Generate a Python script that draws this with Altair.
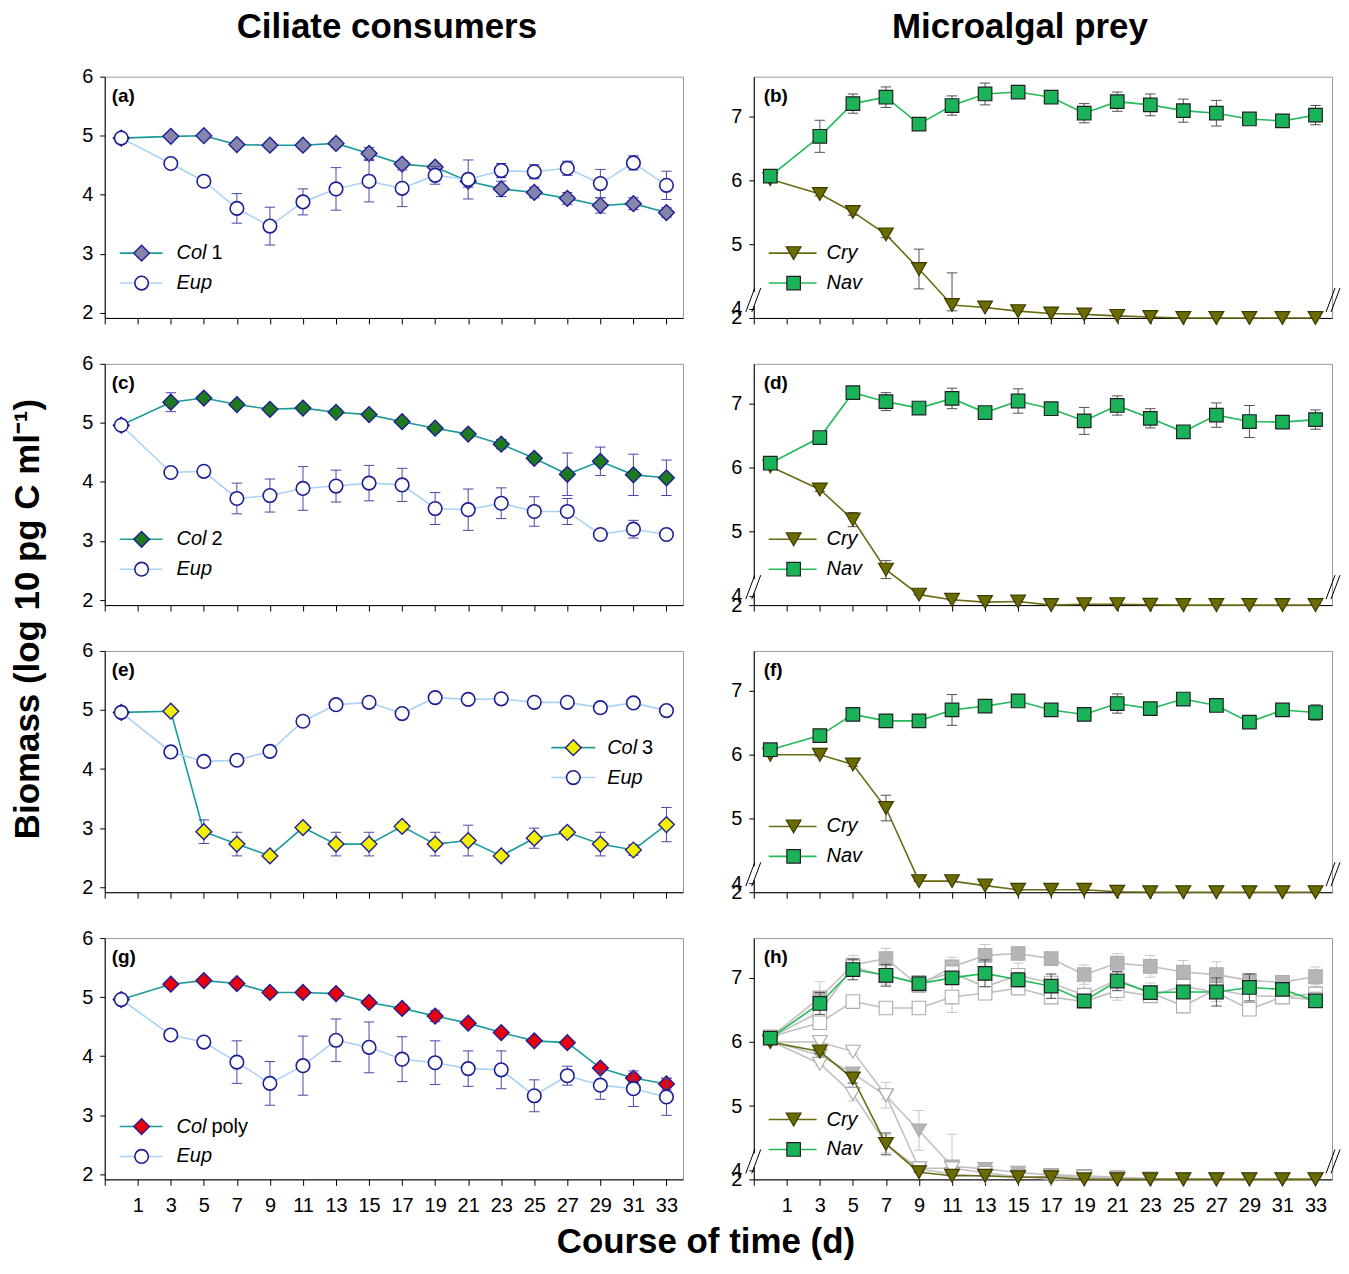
import altair as alt
import pandas as pd

# ---------------- data ----------------
days = [0, 3, 5, 7, 9, 11, 13, 15, 17, 19, 21, 23, 25, 27, 29, 31, 33]
x_ticks = [-1, 1, 3, 5, 7, 9, 11, 13, 15, 17, 19, 21, 23, 25, 27, 29, 31, 33]
left_y_ticks = [2, 3, 4, 5, 6]
right_y_ticks = [2, 4, 5, 6, 7]

# (a) Col 1 / Eup
col1 = [4.96, 4.99, 5.00, 4.85, 4.84, 4.84, 4.87, 4.70, 4.52, 4.47, 4.23, 4.10, 4.04, 3.94, 3.82, 3.85, 3.70]
col1_err = [0.04, 0.03, 0.03, 0.04, 0.06, 0.06, 0.07, 0.10, 0.06, 0.06, 0.10, 0.13, 0.09, 0.10, 0.13, 0.10, 0.08]
eup_a = [4.96, 4.53, 4.23, 3.77, 3.47, 3.88, 4.10, 4.23, 4.11, 4.33, 4.26, 4.41, 4.39, 4.45, 4.19, 4.54, 4.16]
eup_a_err = [0.04, 0.05, 0.07, 0.25, 0.32, 0.22, 0.36, 0.35, 0.31, 0.15, 0.33, 0.12, 0.12, 0.12, 0.24, 0.12, 0.24]
# (c) Col 2 / Eup
col2 = [4.96, 5.35, 5.42, 5.31, 5.23, 5.25, 5.18, 5.14, 5.02, 4.91, 4.81, 4.64, 4.40, 4.13, 4.35, 4.12, 4.07]
col2_err = [0.04, 0.16, 0.05, 0.05, 0.05, 0.06, 0.06, 0.06, 0.05, 0.06, 0.06, 0.08, 0.07, 0.36, 0.24, 0.35, 0.30]
eup_c = [4.96, 4.16, 4.18, 3.72, 3.77, 3.89, 3.93, 3.98, 3.95, 3.55, 3.53, 3.64, 3.50, 3.50, 3.11, 3.20, 3.11]
eup_c_err = [0.04, 0.07, 0.03, 0.26, 0.28, 0.37, 0.27, 0.30, 0.28, 0.27, 0.35, 0.26, 0.25, 0.22, 0.05, 0.15, 0.05]
# (e) Col 3 / Eup
col3 = [4.96, 4.98, 2.94, 2.73, 2.53, 3.01, 2.73, 2.73, 3.03, 2.73, 2.79, 2.53, 2.83, 2.93, 2.73, 2.63, 3.06]
col3_err = [0.04, 0.04, 0.20, 0.20, 0.05, 0.05, 0.20, 0.20, 0.07, 0.20, 0.26, 0.05, 0.17, 0.07, 0.20, 0.09, 0.29]
eup_e = [4.96, 4.29, 4.13, 4.15, 4.30, 4.81, 5.09, 5.13, 4.94, 5.21, 5.18, 5.19, 5.13, 5.13, 5.04, 5.12, 4.99]
eup_e_err = [0.04, 0.07, 0.07, 0.03, 0.08, 0.03, 0.03, 0.03, 0.03, 0.03, 0.03, 0.03, 0.03, 0.03, 0.07, 0.03, 0.07]
# (g) Col poly / Eup
colp = [4.96, 5.22, 5.28, 5.23, 5.08, 5.08, 5.06, 4.91, 4.81, 4.68, 4.56, 4.40, 4.26, 4.23, 3.80, 3.63, 3.53]
colp_err = [0.04, 0.05, 0.04, 0.07, 0.07, 0.06, 0.07, 0.06, 0.06, 0.09, 0.05, 0.05, 0.05, 0.03, 0.06, 0.08, 0.10]
eup_g = [4.96, 4.36, 4.24, 3.90, 3.54, 3.84, 4.27, 4.15, 3.95, 3.89, 3.79, 3.77, 3.33, 3.67, 3.51, 3.45, 3.31]
eup_g_err = [0.04, 0.05, 0.07, 0.36, 0.37, 0.50, 0.36, 0.43, 0.38, 0.37, 0.30, 0.32, 0.27, 0.16, 0.24, 0.30, 0.31]

# (b) Nav / Cry
nav_b = [6.07, 6.69, 7.20, 7.30, 6.88, 7.17, 7.35, 7.38, 7.30, 7.05, 7.23, 7.18, 7.09, 7.05, 6.96, 6.93, 7.02]
nav_b_err = [0.03, 0.25, 0.15, 0.16, 0.04, 0.15, 0.17, 0.04, 0.07, 0.15, 0.15, 0.17, 0.18, 0.20, 0.06, 0.04, 0.15]
cry_b = [6.02, 5.79, 5.51, 5.16, 4.62, 4.06, 4.02, 3.48, 2.97, 2.77, 2.45, 2.20, 2.00, 2.00, 2.00, 2.00, 2.00]
cry_b_err = [0.02, 0.03, 0.05, 0.05, 0.31, 0.50, 0, 0, 0, 0, 0, 0, 0, 0, 0, 0, 0]
# (d)
nav_d = [6.07, 6.47, 7.17, 7.03, 6.93, 7.08, 6.86, 7.04, 6.92, 6.73, 6.97, 6.77, 6.56, 6.82, 6.72, 6.71, 6.75]
nav_d_err = [0.03, 0.03, 0.04, 0.14, 0.04, 0.16, 0.04, 0.19, 0.07, 0.21, 0.15, 0.15, 0.04, 0.19, 0.25, 0.07, 0.15]
cry_d = [6.02, 5.66, 5.19, 4.41, 4.02, 3.16, 2.65, 2.77, 2.00, 2.20, 2.20, 2.06, 2.00, 2.00, 2.00, 2.00, 2.00]
cry_d_err = [0.02, 0.03, 0.11, 0.14, 0, 0, 0, 0, 0, 0, 0, 0, 0, 0, 0, 0, 0]
# (f)
nav_f = [6.08, 6.30, 6.63, 6.53, 6.53, 6.70, 6.76, 6.84, 6.70, 6.63, 6.80, 6.72, 6.87, 6.77, 6.51, 6.70, 6.66]
nav_f_err = [0.03, 0.03, 0.03, 0.03, 0.06, 0.24, 0.07, 0.03, 0.03, 0.03, 0.15, 0.03, 0.07, 0.06, 0.03, 0.06, 0.12]
cry_f = [6.00, 6.00, 5.85, 5.17, 4.03, 4.03, 3.44, 2.55, 2.55, 2.55, 2.10, 2.00, 2.00, 2.00, 2.00, 2.00, 2.00]
cry_f_err = [0.02, 0.02, 0.03, 0.20, 0, 0, 0, 0, 0, 0, 0, 0, 0, 0, 0, 0, 0]
# (h)
nav_h = [6.06, 6.60, 7.13, 7.04, 6.91, 7.00, 7.07, 6.97, 6.87, 6.64, 6.95, 6.77, 6.78, 6.78, 6.85, 6.82, 6.64]
nav_h_err = [0.03, 0.17, 0.16, 0.17, 0.05, 0.05, 0.21, 0.11, 0.19, 0.06, 0.15, 0.07, 0.08, 0.22, 0.21, 0.08, 0.03]
cry_h = [6.00, 5.85, 5.43, 4.41, 3.56, 2.80, 2.80, 2.45, 2.45, 2.00, 2.00, 2.00, 2.00, 2.00, 2.00, 2.00, 2.00]
cry_h_err = [0.02, 0.03, 0.07, 0.17, 0, 0, 0, 0, 0, 0, 0, 0, 0, 0, 0, 0, 0]

# ---------------- style ----------------
FONT = "Liberation Sans"
WL, WR, H = 580, 580, 242
TEAL = "#1c9a9a"
EUP_LINE = "#a9d3f3"
NAVY = "#1e1e96"
ERR_L = "#4848a8"
NAV_LINE = "#22bb5a"
NAV_FILL = "#1ab35a"
CRY_LINE = "#6b6b12"
CRY_FILL = "#6b6b00"
ERR_R = "#505050"
GRAY_LINE = "#c0c0c0"
GRAY_FILL = "#b5b5b5"
GRAY_ERR = "#c8c8c8"
S_DIA, S_CIR, S_SQ, S_TRI = 250, 185, 185, 220


def frame(vals, errs):
    return pd.DataFrame({
        "day": days,
        "val": vals,
        "lo": [v - e for v, e in zip(vals, errs)],
        "hi": [v + e for v, e in zip(vals, errs)],
    })


def encs(right, bottom):
    x = alt.X("day:Q", scale=alt.Scale(domain=[-1, 34], nice=False, zero=False),
              axis=alt.Axis(values=x_ticks, labels=bottom, title=None,
                            labelExpr="datum.value < 0 ? '' : datum.label"))
    if right:
        ysc = alt.Scale(domain=[2, 4, 7.62], range=[H, 232.8, 0], nice=False, zero=False)
        yax = alt.Axis(values=right_y_ticks, title=None, labelOverlap=False)
    else:
        ysc = alt.Scale(domain=[1.915, 6], nice=False, zero=False)
        yax = alt.Axis(values=left_y_ticks, title=None, labelOverlap=False)
    return x, ysc, yax


def series(df, right, bottom, line_color, shape, fill, stroke, size, err_color, sw=1.4):
    x, ysc, yax = encs(right, bottom)
    base = alt.Chart(df)
    line = base.mark_line(color=line_color, strokeWidth=1.6).encode(
        x=x, y=alt.Y("val:Q", scale=ysc, axis=yax))
    err = base.mark_rule(color=err_color, strokeWidth=1).encode(
        x=x, y=alt.Y("lo:Q", scale=ysc, axis=yax), y2="hi:Q")
    cap_lo = base.mark_point(shape="M-1,0L1,0", size=110, stroke=err_color, strokeWidth=1,
                             filled=False, opacity=1).encode(
        x=x, y=alt.Y("lo:Q", scale=ysc, axis=yax))
    cap_hi = base.mark_point(shape="M-1,0L1,0", size=110, stroke=err_color, strokeWidth=1,
                             filled=False, opacity=1).encode(
        x=x, y=alt.Y("hi:Q", scale=ysc, axis=yax))
    pts = base.mark_point(shape=shape, size=size, filled=True, fill=fill, stroke=stroke,
                          strokeWidth=sw, opacity=1).encode(
        x=x, y=alt.Y("val:Q", scale=ysc, axis=yax))
    return [line, err, cap_lo, cap_hi, pts]


one = pd.DataFrame({"k": [0]})


def legend_row(x0, x1, xm, xt, y, line_color, shape, fill, stroke, size, label_it, label_rest=None, sw=1.4):
    c = alt.Chart(one)
    out = [
        c.mark_rule(color=line_color, strokeWidth=1.6).encode(
            x=alt.value(x0), x2=alt.value(x1), y=alt.value(y)),
        c.mark_point(shape=shape, size=size, filled=True, fill=fill, stroke=stroke,
                     strokeWidth=sw, opacity=1).encode(x=alt.value(xm), y=alt.value(y)),
        c.mark_text(text=label_it, font=FONT, fontSize=20, fontStyle="italic",
                    align="left", baseline="middle", color="black").encode(
            x=alt.value(xt), y=alt.value(y)),
    ]
    if label_rest:
        out.append(c.mark_text(text=label_rest, font=FONT, fontSize=20,
                               align="left", baseline="middle", color="black").encode(
            x=alt.value(xt + 35), y=alt.value(y)))
    return out


def text_at(txt, x, y, size, weight="normal", angle=0, align="left"):
    return alt.Chart(one).mark_text(text=txt, font=FONT, fontSize=size, fontWeight=weight,
                                    angle=angle, align=align, baseline="middle",
                                    color="black").encode(x=alt.value(x), y=alt.value(y))


def breaks(w):
    c = alt.Chart(one)
    out = [c.mark_rule(color="white", strokeWidth=4).encode(
        x=alt.value(0), y=alt.value(216), y2=alt.value(230))]
    for xs in (-8, -2, w - 6, w - 1):
        out.append(c.mark_rule(color="black", strokeWidth=1).encode(
            x=alt.value(xs), x2=alt.value(xs + 9), y=alt.value(236), y2=alt.value(212)))
    return out


def left_panel(label, col_vals, col_err, col_fill, col_name, eup_vals, eup_err, bottom,
               leg_pos, extra=()):
    layers = []
    layers += series(frame(col_vals, col_err), False, bottom, TEAL, "diamond", col_fill, NAVY, S_DIA, ERR_L)
    layers += series(frame(eup_vals, eup_err), False, bottom, EUP_LINE, "circle", "white", NAVY, S_CIR, ERR_L, sw=1.6)
    lx0, lx1, lxm, lxt, ly = leg_pos
    layers += legend_row(lx0, lx1, lxm, lxt, ly, TEAL, "diamond", col_fill, NAVY, S_DIA, "Col", col_name)
    layers += legend_row(lx0, lx1, lxm, lxt, ly + 30, EUP_LINE, "circle", "white", NAVY, S_CIR, "Eup", sw=1.6)
    layers.append(text_at(label, 7, 19, 19, "bold"))
    layers += list(extra)
    return alt.layer(*layers).properties(width=WL, height=H)


def right_panel(label, nav, nav_err, cry, cry_err, bottom, leg_y, extra_before=(), extra=()):
    layers = list(extra_before)
    layers += series(frame(cry, cry_err), True, bottom, CRY_LINE, "triangle-down", CRY_FILL, "#3c3c00", S_TRI, ERR_R, sw=1.2)
    layers += series(frame(nav, nav_err), True, bottom, NAV_LINE, "square", NAV_FILL, "#202020", S_SQ, ERR_R, sw=1.2)
    layers += legend_row(15, 63, 40, 73, leg_y, CRY_LINE, "triangle-down", CRY_FILL, "#3c3c00", S_TRI, "Cry", sw=1.2)
    layers += legend_row(15, 63, 40, 73, leg_y + 30, NAV_LINE, "square", NAV_FILL, "#202020", S_SQ, "Nav", sw=1.2)
    layers.append(text_at(label, 10, 19, 19, "bold"))
    layers += breaks(WR)
    layers += list(extra)
    return alt.layer(*layers).properties(width=WR, height=H)


def gray_series(vals, errs, shape, filled_gray):
    fill = GRAY_FILL if filled_gray else "white"
    return series(frame(vals, errs), True, True, GRAY_LINE, shape, fill, "#ababab",
                  S_SQ if shape == "square" else S_TRI, GRAY_ERR, sw=1.1)


# ---------------- panels ----------------
pa = left_panel("(a)", col1, col1_err, "#8585ab", "1", eup_a, eup_a_err, False,
                (15, 58, 37, 72, 177),
                extra=[text_at("Ciliate consumers", 283, -49.5, 35, "bold", align="center")])
pc = left_panel("(c)", col2, col2_err, "#1d7a1d", "2", eup_c, eup_c_err, False,
                (15, 58, 37, 72, 176),
                extra=[text_at("Biomass (log 10 pg C ml\u207b\u00b9)", -77, 256, 35, "bold",
                               angle=270, align="center")])
pe = left_panel("(e)", col3, col3_err, "#f4ee00", "3", eup_e, eup_e_err, False,
                (448, 492, 470, 504, 97))
pg = left_panel("(g)", colp, colp_err, "#e8000b", "poly", eup_g, eup_g_err, True,
                (15, 58, 37, 72, 189),
                extra=[text_at("Course of time (d)", 603, 305, 35, "bold", align="center")])

pb = right_panel("(b)", nav_b, nav_b_err, cry_b, cry_b_err, False, 177,
                 extra=[text_at("Microalgal prey", 267, -49.5, 35, "bold", align="center")])
pd_ = right_panel("(d)", nav_d, nav_d_err, cry_d, cry_d_err, False, 176)
pf = right_panel("(f)", nav_f, nav_f_err, cry_f, cry_f_err, False, 176)

gray_layers = []
gray_layers += gray_series(cry_b, cry_b_err, "triangle-down", True)
gray_layers += gray_series(cry_d, cry_d_err, "triangle-down", False)
gray_layers += gray_series(cry_f, cry_f_err, "triangle-down", False)
gray_layers += gray_series(nav_b, nav_b_err, "square", True)
gray_layers += gray_series(nav_d, nav_d_err, "square", False)
gray_layers += gray_series(nav_f, nav_f_err, "square", False)
ph = right_panel("(h)", nav_h, nav_h_err, cry_h, cry_h_err, True, 182, extra_before=gray_layers)

chart = alt.concat(
    pa, pb, pc, pd_, pe, pf, pg, ph,
    columns=2, spacing={"row": 46, "column": 71}, bounds="flush"
).properties(
    padding={"left": 2, "top": 0, "right": 0, "bottom": 0}
).configure_view(
    stroke="#9a9a9a", strokeWidth=1
).configure_axis(
    domainColor="black", domainWidth=1, tickColor="black", tickWidth=1, tickSize=5,
    labelFont=FONT, labelFontSize=20, labelColor="black", grid=False, labelPadding=7
).configure_axisX(tickSize=6, labelPadding=10)

chart.save("out.html", embed_options={"renderer": "svg", "actions": False})
